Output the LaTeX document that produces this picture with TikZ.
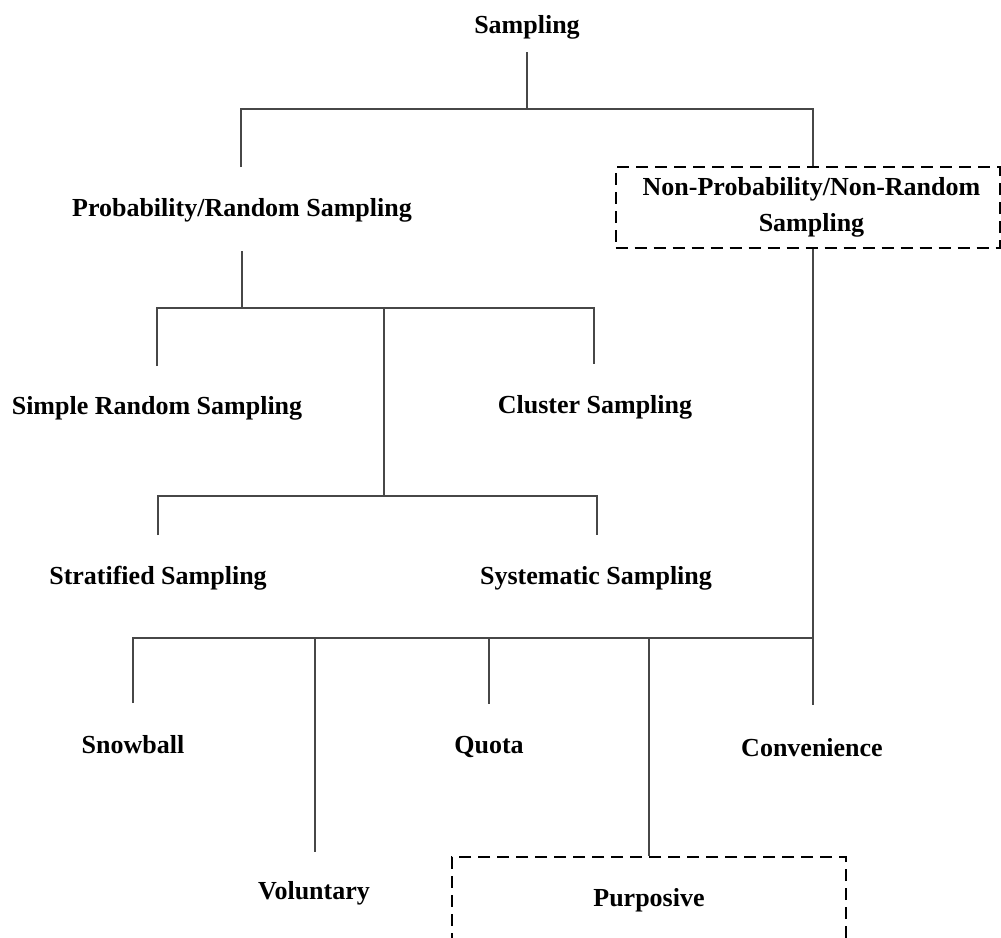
\documentclass[tikz,border=0pt]{standalone}
\usepackage{fontspec}
\setmainfont{Liberation Serif}
\begin{document}
\begin{tikzpicture}[x=1pt,y=-1pt,
  lbl/.style={font=\fontsize{26}{36}\selectfont\bfseries, align=center, inner sep=0pt, text=black},
  link/.style={draw=black!72, line width=1.3pt},
  dbox/.style={draw=black, line width=2pt, dash pattern=on 12pt off 7pt}]
\useasboundingbox (0,0) rectangle (1001,937);

% ---- labels ----
\node[lbl] (root) at (527,27) {Sampling};
\node[lbl] (prob) at (242,210) {Probability/Random Sampling};
\node[lbl, dbox, minimum width=384pt, minimum height=81pt] (nonprob) at (807.5,207.5)
  {\hspace*{8pt}Non-Probability/Non-Random\\\hspace*{8pt}Sampling};
\node[lbl] (simple) at (157,408) {Simple Random Sampling};
\node[lbl] (cluster) at (595,407) {Cluster Sampling};
\node[lbl] (strat) at (158,578) {Stratified Sampling};
\node[lbl] (syst) at (596,578) {Systematic Sampling};
\node[lbl] (snow) at (133,745) {Snowball};
\node[lbl] (vol) at (314,893) {Voluntary};
\node[lbl] (quota) at (489,747) {Quota};
\node[lbl] (conv) at (812,748) {Convenience};
\node[lbl, dbox, minimum width=394pt, minimum height=86pt] (purp) at (649,900) {Purposive};

% ---- connector end points and junctions ----
\coordinate (rootOut) at (527,52);
\coordinate (j0) at (527,109);
\coordinate (j0l) at (241,109);
\coordinate (j0r) at (813,109);
\coordinate (probIn) at (241,167);
\coordinate (probOut) at (242,251);
\coordinate (j1) at (242,308);
\coordinate (j1l) at (157,308);
\coordinate (j1m) at (384,308);
\coordinate (j1r) at (594,308);
\coordinate (simpleIn) at (157,366);
\coordinate (clusterIn) at (594,364);
\coordinate (j2) at (384,496);
\coordinate (j2l) at (158,496);
\coordinate (j2r) at (597,496);
\coordinate (stratIn) at (158,535);
\coordinate (systIn) at (597,535);
\coordinate (j3) at (813,638);
\coordinate (j3l) at (133,638);
\coordinate (j3a) at (315,638);
\coordinate (j3b) at (489,638);
\coordinate (j3c) at (649,638);
\coordinate (snowIn) at (133,703);
\coordinate (volIn) at (315,852);
\coordinate (quotaIn) at (489,704);
\coordinate (convIn) at (813,705);

% ---- Sampling splits into the two families ----
\draw[link] (rootOut) -- (j0);
\draw[link] (probIn) -- (j0l) -- (j0r) -- (j0r |- nonprob.north);

% ---- probability branch ----
\draw[link] (probOut) -- (j1);
\draw[link] (simpleIn) -- (j1l) -- (j1r) -- (clusterIn);
\draw[link] (j1m) -- (j2);
\draw[link] (stratIn) -- (j2l) -- (j2r) -- (systIn);

% ---- non-probability branch ----
\draw[link] (j3 |- nonprob.south) -- (j3);
\draw[link] (snowIn) -- (j3l) -- (j3) -- (convIn);
\draw[link] (j3a) -- (volIn);
\draw[link] (j3b) -- (quotaIn);
\draw[link] (j3c) -- (purp.north);
\end{tikzpicture}
\end{document}
